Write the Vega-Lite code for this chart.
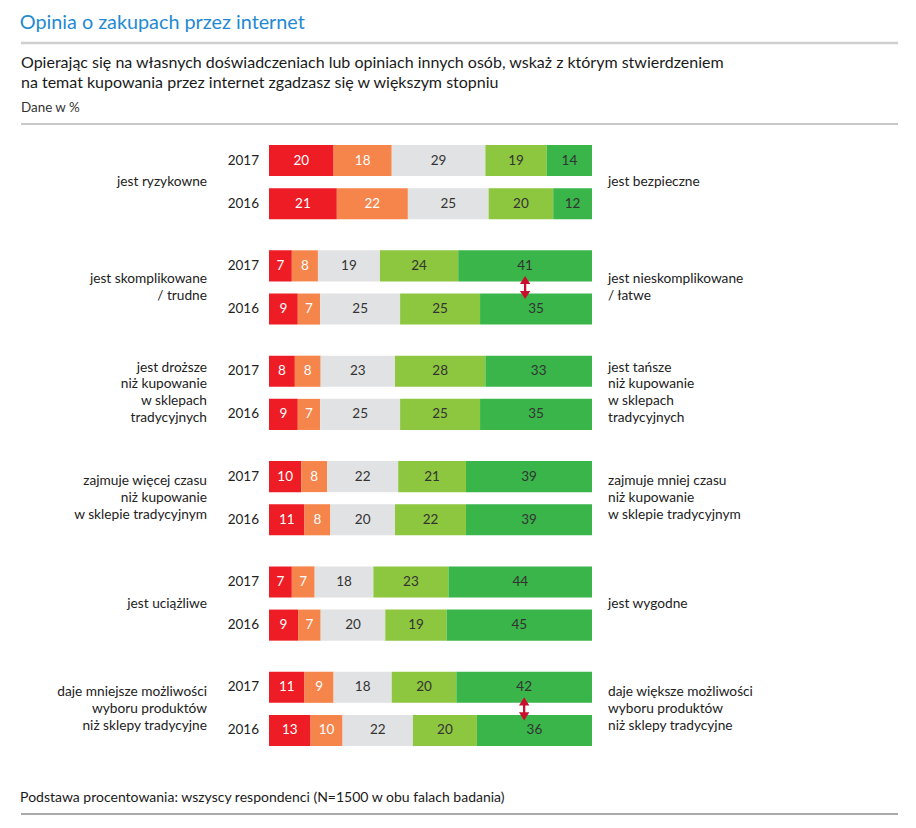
{
  "$schema": "https://vega.github.io/schema/vega-lite/v6.json",
  "padding": {"left": 19, "right": 19, "top": 12, "bottom": 5},
  "spacing": 0,
  "config": {
    "view": {"stroke": null},
    "font": "Lato",
    "title": {"font": "Lato", "fontWeight": "normal", "anchor": "start"}
  },
  "datasets": {
    "bars": [
      {"grp": 1, "year": 2017, "cat": 1, "value": 20}, {"grp": 1, "year": 2017, "cat": 2, "value": 18}, {"grp": 1, "year": 2017, "cat": 3, "value": 29}, {"grp": 1, "year": 2017, "cat": 4, "value": 19}, {"grp": 1, "year": 2017, "cat": 5, "value": 14},
      {"grp": 1, "year": 2016, "cat": 1, "value": 21}, {"grp": 1, "year": 2016, "cat": 2, "value": 22}, {"grp": 1, "year": 2016, "cat": 3, "value": 25}, {"grp": 1, "year": 2016, "cat": 4, "value": 20}, {"grp": 1, "year": 2016, "cat": 5, "value": 12},
      {"grp": 2, "year": 2017, "cat": 1, "value": 7}, {"grp": 2, "year": 2017, "cat": 2, "value": 8}, {"grp": 2, "year": 2017, "cat": 3, "value": 19}, {"grp": 2, "year": 2017, "cat": 4, "value": 24}, {"grp": 2, "year": 2017, "cat": 5, "value": 41},
      {"grp": 2, "year": 2016, "cat": 1, "value": 9}, {"grp": 2, "year": 2016, "cat": 2, "value": 7}, {"grp": 2, "year": 2016, "cat": 3, "value": 25}, {"grp": 2, "year": 2016, "cat": 4, "value": 25}, {"grp": 2, "year": 2016, "cat": 5, "value": 35},
      {"grp": 3, "year": 2017, "cat": 1, "value": 8}, {"grp": 3, "year": 2017, "cat": 2, "value": 8}, {"grp": 3, "year": 2017, "cat": 3, "value": 23}, {"grp": 3, "year": 2017, "cat": 4, "value": 28}, {"grp": 3, "year": 2017, "cat": 5, "value": 33},
      {"grp": 3, "year": 2016, "cat": 1, "value": 9}, {"grp": 3, "year": 2016, "cat": 2, "value": 7}, {"grp": 3, "year": 2016, "cat": 3, "value": 25}, {"grp": 3, "year": 2016, "cat": 4, "value": 25}, {"grp": 3, "year": 2016, "cat": 5, "value": 35},
      {"grp": 4, "year": 2017, "cat": 1, "value": 10}, {"grp": 4, "year": 2017, "cat": 2, "value": 8}, {"grp": 4, "year": 2017, "cat": 3, "value": 22}, {"grp": 4, "year": 2017, "cat": 4, "value": 21}, {"grp": 4, "year": 2017, "cat": 5, "value": 39},
      {"grp": 4, "year": 2016, "cat": 1, "value": 11}, {"grp": 4, "year": 2016, "cat": 2, "value": 8}, {"grp": 4, "year": 2016, "cat": 3, "value": 20}, {"grp": 4, "year": 2016, "cat": 4, "value": 22}, {"grp": 4, "year": 2016, "cat": 5, "value": 39},
      {"grp": 5, "year": 2017, "cat": 1, "value": 7}, {"grp": 5, "year": 2017, "cat": 2, "value": 7}, {"grp": 5, "year": 2017, "cat": 3, "value": 18}, {"grp": 5, "year": 2017, "cat": 4, "value": 23}, {"grp": 5, "year": 2017, "cat": 5, "value": 44},
      {"grp": 5, "year": 2016, "cat": 1, "value": 9}, {"grp": 5, "year": 2016, "cat": 2, "value": 7}, {"grp": 5, "year": 2016, "cat": 3, "value": 20}, {"grp": 5, "year": 2016, "cat": 4, "value": 19}, {"grp": 5, "year": 2016, "cat": 5, "value": 45},
      {"grp": 6, "year": 2017, "cat": 1, "value": 11}, {"grp": 6, "year": 2017, "cat": 2, "value": 9}, {"grp": 6, "year": 2017, "cat": 3, "value": 18}, {"grp": 6, "year": 2017, "cat": 4, "value": 20}, {"grp": 6, "year": 2017, "cat": 5, "value": 42},
      {"grp": 6, "year": 2016, "cat": 1, "value": 13}, {"grp": 6, "year": 2016, "cat": 2, "value": 10}, {"grp": 6, "year": 2016, "cat": 3, "value": 22}, {"grp": 6, "year": 2016, "cat": 4, "value": 20}, {"grp": 6, "year": 2016, "cat": 5, "value": 36}
    ],
    "groups": [
      {"grp": 1, "left": "jest ryzykowne", "right": "jest bezpieczne", "change": false},
      {"grp": 2, "left": "jest skomplikowane|/ trudne", "right": "jest nieskomplikowane|/ łatwe", "change": true},
      {"grp": 3, "left": "jest droższe|niż kupowanie|w sklepach|tradycyjnych", "right": "jest tańsze|niż kupowanie|w sklepach|tradycyjnych", "change": false},
      {"grp": 4, "left": "zajmuje więcej czasu|niż kupowanie|w sklepie tradycyjnym", "right": "zajmuje mniej czasu|niż kupowanie|w sklepie tradycyjnym", "change": false},
      {"grp": 5, "left": "jest uciążliwe", "right": "jest wygodne", "change": false},
      {"grp": 6, "left": "daje mniejsze możliwości|wyboru produktów|niż sklepy tradycyjne", "right": "daje większe możliwości|wyboru produktów|niż sklepy tradycyjne", "change": true}
    ],
    "intro": [
      {"kind": "q", "text": "Opierając się na własnych doświadczeniach lub opiniach innych osób, wskaż z którym stwierdzeniem|na temat kupowania przez internet zgadzasz się w większym stopniu"},
      {"kind": "d", "text": "Dane w %"}
    ]
  },
  "vconcat": [
    {
      "width": 877,
      "height": 80,
      "title": {"text": "Opinia o zakupach przez internet", "color": "#1f8ad2", "fontSize": 19.8, "offset": 9},
      "layer": [
        {
          "data": {"values": [{}]},
          "mark": {"type": "rule", "color": "#cfcfcf", "strokeWidth": 2.5},
          "encoding": {"y": {"value": 0}}
        },
        {
          "data": {"name": "intro"},
          "transform": [{"filter": "datum.kind == 'q'"}],
          "mark": {"type": "text", "align": "left", "baseline": "middle", "dy": -10, "fontSize": 16, "lineBreak": "|", "lineHeight": 20, "color": "#1a1a1a"},
          "encoding": {
            "x": {"datum": 0, "type": "quantitative", "scale": {"domain": [0, 1]}, "axis": null},
            "y": {"field": "kind", "type": "nominal", "scale": {"type": "point", "domain": ["q", "d"], "padding": 0.643, "align": 0.667}, "axis": null},
            "text": {"field": "text", "type": "nominal"}
          }
        },
        {
          "data": {"name": "intro"},
          "transform": [{"filter": "datum.kind == 'd'"}],
          "mark": {"type": "text", "align": "left", "baseline": "middle", "fontSize": 13.4, "color": "#333333"},
          "encoding": {
            "x": {"datum": 0, "type": "quantitative", "scale": {"domain": [0, 1]}, "axis": null},
            "y": {"field": "kind", "type": "nominal", "scale": {"type": "point", "domain": ["q", "d"], "padding": 0.643, "align": 0.667}, "axis": null},
            "text": {"field": "text", "type": "nominal"}
          }
        }
      ]
    },
    {
      "width": 877,
      "height": 667,
      "layer": [
        {
          "data": {"values": [{}]},
          "mark": {"type": "rule", "color": "#c8c8c8", "strokeWidth": 2},
          "encoding": {"y": {"value": 0}}
        },
        {
          "data": {"name": "bars"},
          "transform": [{"stack": "value", "groupby": ["grp", "year"], "sort": [{"field": "cat", "order": "ascending"}], "offset": "normalize", "as": ["v0", "v1"]}],
          "mark": {"type": "bar"},
          "encoding": {
            "y": {"field": "grp", "type": "ordinal", "scale": {"paddingInner": 0.295, "paddingOuter": 0.313, "align": 0.318}, "axis": null},
            "yOffset": {"field": "year", "type": "ordinal", "sort": "descending", "scale": {"paddingInner": 0.28, "paddingOuter": 0}},
            "x": {"field": "v0", "type": "quantitative", "scale": {"domain": [-0.7678, 1.9474], "nice": false, "zero": false}, "axis": null},
            "x2": {"field": "v1"},
            "color": {"field": "cat", "type": "ordinal", "scale": {"domain": [1, 2, 3, 4, 5], "range": ["#ee1c25", "#f6854c", "#e1e2e3", "#8dc63f", "#39b54a"]}, "legend": null}
          }
        },
        {
          "data": {"name": "bars"},
          "transform": [
            {"stack": "value", "groupby": ["grp", "year"], "sort": [{"field": "cat", "order": "ascending"}], "offset": "normalize", "as": ["v0", "v1"]},
            {"fold": ["v0", "v1"], "as": ["edge", "pos"]},
            {"aggregate": [{"op": "mean", "field": "pos", "as": "mid"}], "groupby": ["grp", "year", "cat", "value"]}
          ],
          "mark": {"type": "text", "fontSize": 13.5, "baseline": "middle", "align": "center"},
          "encoding": {
            "y": {"field": "grp", "type": "ordinal", "axis": null},
            "yOffset": {"field": "year", "type": "ordinal", "sort": "descending", "scale": {"paddingInner": 0.28, "paddingOuter": 0}},
            "x": {"field": "mid", "type": "quantitative"},
            "text": {"field": "value", "type": "quantitative"},
            "color": {"condition": {"test": "datum.cat <= 2", "value": "#ffffff"}, "value": "#333333"}
          }
        },
        {
          "data": {"name": "bars"},
          "transform": [{"filter": "datum.cat == 1"}],
          "mark": {"type": "text", "fontSize": 13.5, "align": "right", "baseline": "middle", "dx": -10, "color": "#222222"},
          "encoding": {
            "y": {"field": "grp", "type": "ordinal", "axis": null},
            "yOffset": {"field": "year", "type": "ordinal", "sort": "descending", "scale": {"paddingInner": 0.28, "paddingOuter": 0}},
            "x": {"datum": 0, "type": "quantitative"},
            "text": {"field": "year", "type": "nominal"}
          }
        },
        {
          "data": {"name": "groups"},
          "mark": {"type": "text", "fontSize": 13.7, "align": "right", "baseline": "middle", "dx": -62, "dy": {"expr": "-(length(split(datum.left, '|')) - 1) * 8.35"}, "lineBreak": "|", "lineHeight": 16.7, "color": "#222222"},
          "encoding": {
            "y": {"field": "grp", "type": "ordinal", "axis": null},
            "x": {"datum": 0, "type": "quantitative"},
            "text": {"field": "left", "type": "nominal"}
          }
        },
        {
          "data": {"name": "groups"},
          "mark": {"type": "text", "fontSize": 13.7, "align": "left", "baseline": "middle", "dx": 16, "dy": {"expr": "-(length(split(datum.right, '|')) - 1) * 8.35"}, "lineBreak": "|", "lineHeight": 16.7, "color": "#222222"},
          "encoding": {
            "y": {"field": "grp", "type": "ordinal", "axis": null},
            "x": {"datum": 1, "type": "quantitative"},
            "text": {"field": "right", "type": "nominal"}
          }
        },
        {
          "data": {"name": "bars"},
          "transform": [
            {"stack": "value", "groupby": ["grp", "year"], "sort": [{"field": "cat", "order": "ascending"}], "offset": "normalize", "as": ["v0", "v1"]},
            {"filter": "datum.year == 2017 && datum.cat == 5"},
            {"lookup": "grp", "from": {"data": {"name": "groups"}, "key": "grp", "fields": ["change"]}},
            {"filter": "datum.change"}
          ],
          "mark": {"type": "point", "shape": "M0,-1 L0.45,-0.3 L0.1,-0.3 L0.1,0.3 L0.45,0.3 L0,1 L-0.45,0.3 L-0.1,0.3 L-0.1,-0.3 L-0.45,-0.3 Z", "filled": true, "size": 530, "color": "#c8102e", "opacity": 1, "strokeWidth": 0},
          "encoding": {
            "y": {"field": "grp", "type": "ordinal", "axis": null},
            "x": {"field": "v0", "type": "quantitative", "bin": "binned"},
            "x2": {"field": "v1"}
          }
        }
      ]
    },
    {
      "width": 877,
      "height": 0,
      "title": {
        "text": "Podstawa procentowania: wszyscy respondenci (N=1500 w obu falach badania)",
        "color": "#1a1a1a",
        "fontSize": 14,
        "offset": 8
      },
      "data": {"values": [{}]},
      "mark": {"type": "rule", "color": "#aaaaaa", "strokeWidth": 1.8},
      "encoding": {"y": {"value": 0}}
    }
  ]
}
